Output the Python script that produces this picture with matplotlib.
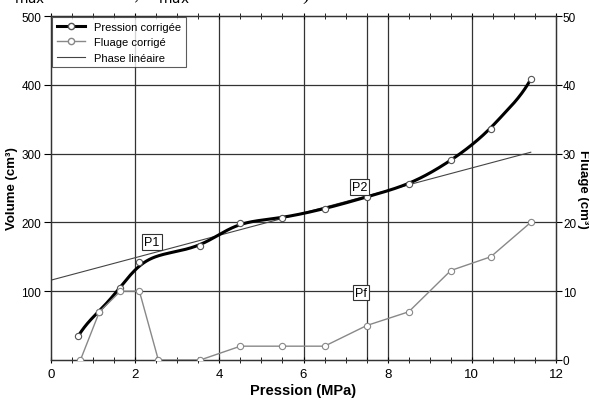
import numpy as np
import matplotlib
matplotlib.use("Agg")
import matplotlib.pyplot as plt
from matplotlib.lines import Line2D

plt.rcParams['font.family'] = ['Liberation Sans', 'DejaVu Sans']

# pression corrigee (volume, cm3)
p_press = [0.65, 1.15, 1.65, 2.1, 3.55, 4.5, 5.5, 6.5, 7.5, 8.5, 9.5, 10.45, 11.4]
vol = [35, 70, 104, 143, 166, 199, 207, 220, 237, 256, 290, 336, 408]

# fluage corrige (cm3)
p_flu = [0.7, 1.15, 1.65, 2.1, 2.55, 3.55, 4.5, 5.5, 6.5, 7.5, 8.5, 9.5, 10.45, 11.4]
flu = [0, 7, 10, 10, 0, 0, 2, 2, 2, 5, 7, 13, 15, 20]

# phase lineaire
lin_x = [0, 11.4]
lin_y = [116, 302]

xticks = [0, 2, 4, 6, 8, 10, 12]
vticks = [100, 200, 300, 400, 500]
fticks = [0, 10, 20, 30, 40, 50]


def pchip(x, y, xn):
    # monotone cubic interpolation (Fritsch-Carlson)
    x = np.asarray(x, float); y = np.asarray(y, float)
    h = np.diff(x); d = np.diff(y) / h
    m = np.zeros_like(y)
    m[0], m[-1] = d[0], d[-1]
    for k in range(1, len(x) - 1):
        if d[k-1] * d[k] > 0:
            w1 = 2*h[k] + h[k-1]; w2 = h[k] + 2*h[k-1]
            m[k] = (w1 + w2) / (w1/d[k-1] + w2/d[k])
    idx = np.clip(np.searchsorted(x, xn) - 1, 0, len(x) - 2)
    t = (xn - x[idx]) / h[idx]
    h00 = 2*t**3 - 3*t**2 + 1; h10 = t**3 - 2*t**2 + t
    h01 = -2*t**3 + 3*t**2; h11 = t**3 - t**2
    return h00*y[idx] + h10*h[idx]*m[idx] + h01*y[idx+1] + h11*h[idx]*m[idx+1]


fig = plt.figure(figsize=(5.89, 4.06), dpi=100)
ax = fig.add_axes([0.0866, 0.111, 0.8574, 0.847])

# grid lines
for x in [2, 4, 6, 7.5, 8, 10]:
    ax.axvline(x, color='#333333', lw=0.9, zorder=1)
for y in [100, 200, 300, 400]:
    ax.axhline(y, color='#333333', lw=0.9, zorder=1)

# smoothed curve (pchip + light gaussian smoothing, like the original drawing)
xs = np.linspace(p_press[0], p_press[-1], 600)
ys = pchip(p_press, vol, xs)
sig = 0.3
w = np.exp(-0.5 * ((xs[:, None] - xs[None, :]) / sig) ** 2)
ys_s = (w @ ys) / w.sum(axis=1)
# keep the ends on the data
fade = np.clip(np.minimum(xs - xs[0], xs[-1] - xs) / (2 * sig), 0, 1)
ys = fade * ys_s + (1 - fade) * ys

ax.plot(lin_x, lin_y, color='#444444', lw=0.8, zorder=2)
ax.plot(xs, ys, color='black', lw=2.2, zorder=3)
ax.plot(p_press, vol, ls='none', marker='o', ms=4.5, mfc='white', mec='#555555', mew=0.8, zorder=4)

ax.set_xlim(0, 12)
ax.set_ylim(0, 500)
ax.set_xticks(xticks)
ax.set_xticks(np.arange(0, 12.01, 0.5), minor=True)
ax.set_yticks(vticks)
ax.tick_params(axis='x', which='both', direction='inout', top=True, labelsize=9.5, length=5)
ax.tick_params(axis='x', which='minor', length=4)
ax.tick_params(axis='y', labelsize=8.5, length=5, pad=2)
ax.set_xlabel('Pression (MPa)', fontsize=10.5, fontweight='bold', labelpad=2)
ax.set_ylabel('Volume (cm³)', fontsize=9.5, fontweight='bold', va='center')
ax.yaxis.set_label_coords(-0.078, 0.5)

ax2 = ax.twinx()
ax2.set_ylim(0, 50)
ax2.set_yticks(fticks)
ax2.tick_params(axis='y', labelsize=8.5, length=4, pad=1)
ax2.plot(p_flu, flu, color='#888888', lw=1.0, marker='o', ms=4.5, mfc='white', mec='#888888', mew=0.8, zorder=3)
ax2.set_ylabel('Fluage (cm³)', fontsize=9.5, fontweight='bold', rotation=270, va='center')
ax2.yaxis.set_label_coords(1.0525, 0.5)

for a in (ax, ax2):
    for s in a.spines.values():
        s.set_color('#333333')
        s.set_linewidth(0.9)

box = dict(boxstyle='square,pad=0.15', fc='white', ec='#333333', lw=0.8)
ax.text(2.4, 171, 'P1', fontsize=9, ha='center', va='center', bbox=box, zorder=5)
ax.text(7.34, 251, 'P2', fontsize=9, ha='center', va='center', bbox=box, zorder=5)
ax.text(7.36, 98, 'Pf', fontsize=9, ha='center', va='center', bbox=box, zorder=5)

handles = [
    Line2D([], [], color='black', lw=2.2, marker='o', ms=4.5, mfc='white', mec='#555555'),
    Line2D([], [], color='#888888', lw=1.0, marker='o', ms=4.5, mfc='white', mec='#888888'),
    Line2D([], [], color='#444444', lw=0.8),
]
leg = ax.legend(handles, ['Pression corrigée', 'Fluage corrigé', 'Phase linéaire'],
                loc='upper left', fontsize=8, frameon=True, fancybox=False,
                borderaxespad=0.1, handlelength=2.6, labelspacing=0.5, borderpad=0.4)
leg.get_frame().set_edgecolor('#333333')
leg.get_frame().set_linewidth(0.8)
leg.set_zorder(6)

fig.text(0.0, 1.012, 'V$_{\\mathrm{max}}$ = 430 cm³ ; V$_{\\mathrm{max}}$ net = 409 cm³).',
         fontsize=14, family='Liberation Serif', va='center', ha='left')

fig.savefig('out.png', dpi=100)
